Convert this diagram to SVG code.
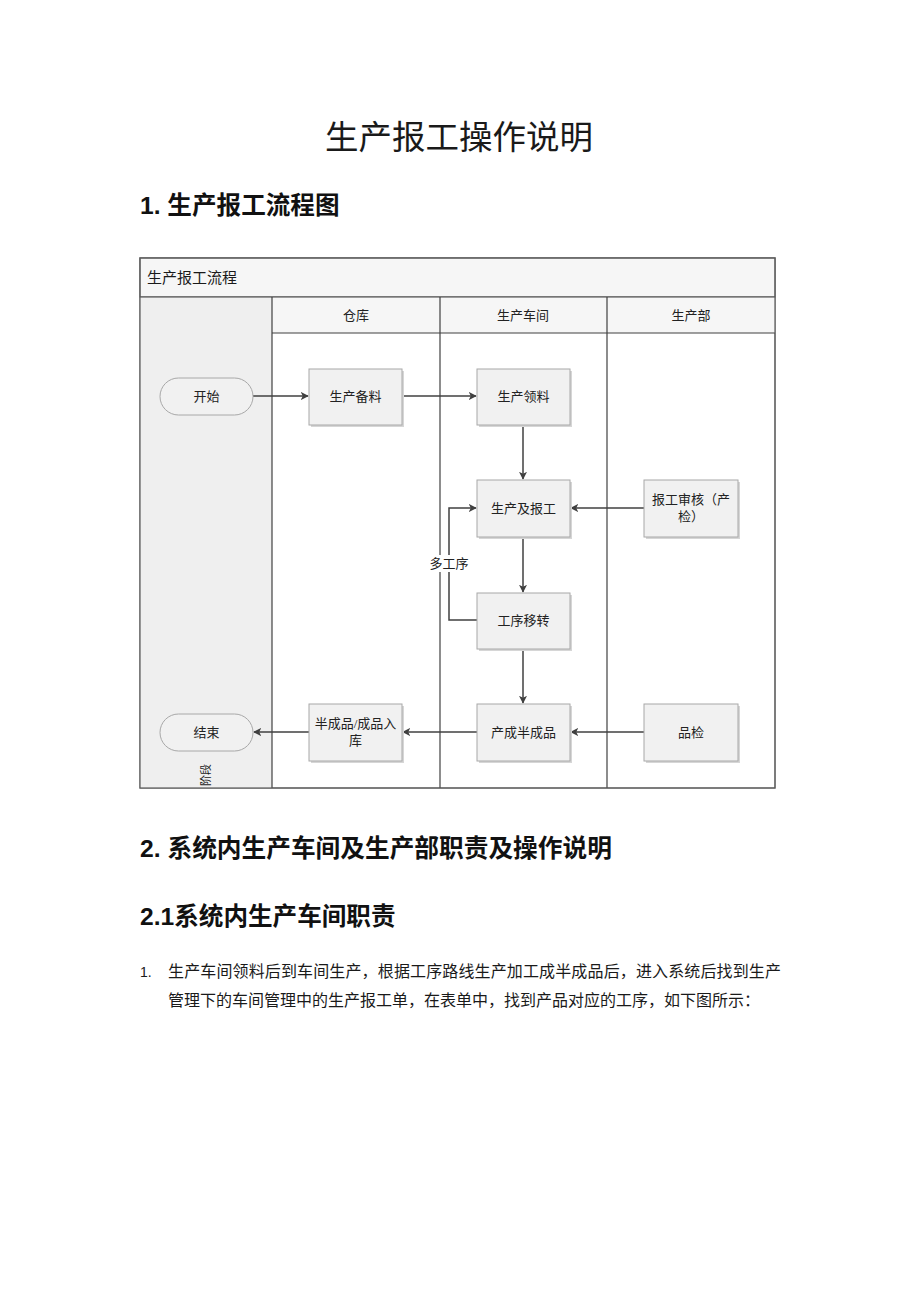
<svg xmlns="http://www.w3.org/2000/svg" width="920" height="1302" viewBox="0 0 920 1302">
<defs>
<style>
.t{font-family:"Liberation Serif","Noto Sans CJK SC",serif;fill:#1a1a1a}
.h{font-family:"Liberation Sans","Noto Sans CJK SC",sans-serif;font-weight:bold;fill:#111}
.s{font-family:"Liberation Sans","Noto Sans CJK SC",sans-serif;fill:#1a1a1a}
.n{font-family:"Liberation Serif","Noto Sans CJK SC",serif;font-size:13px;fill:#222;text-anchor:middle}
.box{fill:#f1f1f1;stroke:#a8a8a8;stroke-width:1}
.sh{fill:#d6d6d6}
.lane{stroke:#404040;stroke-width:1.2;fill:none}
.c{stroke:#404040;stroke-width:1.5;fill:none;marker-end:url(#a)}
</style>
<marker id="a" viewBox="0 0 10 10" refX="9" refY="5" markerWidth="8" markerHeight="8" markerUnits="userSpaceOnUse" orient="auto">
<path d="M0,0 L10,5 L0,10 L2.5,5 Z" fill="#404040"/>
</marker>
</defs>
<rect width="920" height="1302" fill="#fff"/>

<text class="t" x="459" y="149" font-size="33.5" text-anchor="middle">生产报工操作说明</text>
<text class="h" x="140" y="214" font-size="24.6">1. 生产报工流程图</text>

<g id="pool">
<rect x="140" y="258" width="635" height="530" fill="#fff" stroke="#7a7a7a" stroke-width="1.2"/>
<rect x="140" y="258" width="635" height="39" fill="#f6f6f6" stroke="#7a7a7a" stroke-width="1.2"/>
<rect x="140" y="297" width="132" height="491" fill="#efefef"/>
<rect x="272" y="297" width="503" height="36" fill="#f6f6f6"/>
<text class="t" x="147" y="283" font-size="15">生产报工流程</text>
<line class="lane" x1="140" y1="297" x2="775" y2="297"/>
<line class="lane" x1="272" y1="333" x2="775" y2="333"/>
<line class="lane" x1="272" y1="297" x2="272" y2="788"/>
<line class="lane" x1="440" y1="297" x2="440" y2="788"/>
<line class="lane" x1="607" y1="297" x2="607" y2="788"/>
<rect x="140" y="258" width="635" height="530" fill="none" stroke="#5a5a5a" stroke-width="1.2"/>
<text class="n" x="356" y="320">仓库</text>
<text class="n" x="523" y="320">生产车间</text>
<text class="n" x="691" y="320">生产部</text>
<text class="t" font-size="11" text-anchor="middle" transform="translate(210,775) rotate(-90)">阶段</text>
</g>

<g id="connectors">
<line class="c" x1="253" y1="396" x2="308" y2="396"/>
<line class="c" x1="402" y1="396" x2="476" y2="396"/>
<line class="c" x1="523" y1="425" x2="523" y2="479"/>
<line class="c" x1="644" y1="508" x2="571" y2="508"/>
<line class="c" x1="523" y1="537" x2="523" y2="592"/>
<polyline class="c" points="477,620 449,620 449,508 476,508"/>
<line class="c" x1="523" y1="649" x2="523" y2="703"/>
<line class="c" x1="644" y1="732" x2="571" y2="732"/>
<line class="c" x1="477" y1="732" x2="403" y2="732"/>
<line class="c" x1="309" y1="732" x2="254" y2="732"/>
<rect x="428" y="555" width="42" height="17" fill="#fff"/>
<text class="n" x="449" y="568">多工序</text>
</g>

<g id="start">
<rect x="160" y="378" width="93" height="37" rx="18.5" fill="#f1f1f1" stroke="#a8a8a8"/>
<text class="n" x="206.5" y="401">开始</text>
</g>
<g id="prep">
<rect class="sh" x="311" y="371" width="93" height="56"/>
<rect class="box" x="309" y="369" width="93" height="56"/>
<text class="n" x="355.5" y="401">生产备料</text>
</g>
<g id="pick">
<rect class="sh" x="479" y="371" width="93" height="56"/>
<rect class="box" x="477" y="369" width="93" height="56"/>
<text class="n" x="523.5" y="401">生产领料</text>
</g>
<g id="report">
<rect class="sh" x="479" y="482" width="93" height="57"/>
<rect class="box" x="477" y="480" width="93" height="57"/>
<text class="n" x="523.5" y="513">生产及报工</text>
</g>
<g id="audit">
<rect class="sh" x="646" y="482" width="94" height="57"/>
<rect class="box" x="644" y="480" width="94" height="57"/>
<text class="n" x="691" y="504">报工审核（产</text>
<text class="n" x="691" y="521">检）</text>
</g>
<g id="transfer">
<rect class="sh" x="479" y="595" width="93" height="56"/>
<rect class="box" x="477" y="593" width="93" height="56"/>
<text class="n" x="523.5" y="625">工序移转</text>
</g>
<g id="semi">
<rect class="sh" x="479" y="706" width="93" height="57"/>
<rect class="box" x="477" y="704" width="93" height="57"/>
<text class="n" x="523.5" y="737">产成半成品</text>
</g>
<g id="qc">
<rect class="sh" x="646" y="706" width="94" height="57"/>
<rect class="box" x="644" y="704" width="94" height="57"/>
<text class="n" x="691" y="737">品检</text>
</g>
<g id="store">
<rect class="sh" x="311" y="706" width="93" height="57"/>
<rect class="box" x="309" y="704" width="93" height="57"/>
<text class="n" x="355.5" y="728">半成品/成品入</text>
<text class="n" x="355.5" y="745">库</text>
</g>
<g id="end">
<rect x="160" y="714" width="93" height="37" rx="18.5" fill="#f1f1f1" stroke="#a8a8a8"/>
<text class="n" x="206.5" y="737">结束</text>
</g>

<text class="h" x="140" y="857" font-size="24.7">2. 系统内生产车间及生产部职责及操作说明</text>
<text class="h" x="140" y="925" font-size="24.6">2.1系统内生产车间职责</text>
<text class="s" x="140" y="977" font-size="14">1.</text>
<text class="t" x="168" y="977" font-size="16" textLength="613" lengthAdjust="spacing">生产车间领料后到车间生产，根据工序路线生产加工成半成品后，进入系统后找到生产</text>
<text class="t" x="168" y="1006" font-size="16">管理下的车间管理中的生产报工单，在表单中，找到产品对应的工序，如下图所示：</text>
</svg>
